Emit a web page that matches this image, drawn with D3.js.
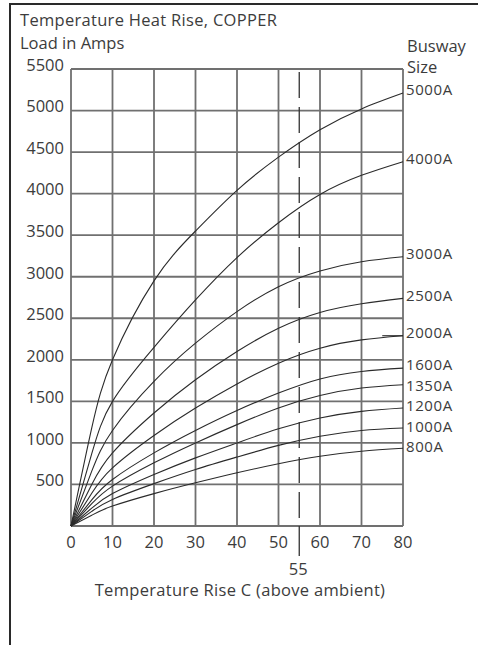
<!DOCTYPE html>
<html>
<head>
<meta charset="utf-8">
<script src="https://cdn.jsdelivr.net/npm/d3@7"></script>
<style>
html,body{margin:0;padding:0;background:#fff;}
svg{display:block;}
text{font-family:"Open Sans",sans-serif;fill:#3c3c3c;}
</style>
</head>
<body>
<script>
// ---- data ----
const temps = [0, 5, 10, 20, 30, 40, 50, 60, 70, 80];
const load5000A = [0, 1180, 2000, 2950, 3550, 4040, 4440, 4770, 5020, 5210];
const load4000A = [0, 870, 1500, 2150, 2720, 3230, 3650, 3990, 4220, 4385];
const load3000A = [0, 660, 1150, 1740, 2200, 2580, 2880, 3070, 3180, 3240];
const load2500A = [0, 500, 880, 1360, 1760, 2100, 2380, 2570, 2675, 2740];
const load2000A = [0, 395, 700, 1090, 1420, 1710, 1960, 2140, 2240, 2290];
const load1600A = [0, 315, 560, 880, 1150, 1390, 1600, 1770, 1860, 1900];
const load1350A = [0, 268, 480, 760, 1000, 1220, 1420, 1570, 1660, 1700];
const load1200A = [0, 216, 390, 620, 820, 1000, 1170, 1300, 1380, 1420];
const load1000A = [0, 176, 320, 510, 680, 830, 970, 1080, 1150, 1180];
const load800A  = [0, 130, 240, 390, 520, 640, 750, 840, 900, 935];
const buswaySizes = ["5000A","4000A","3000A","2500A","2000A","1600A","1350A","1200A","1000A","800A"];
const seriesLoads = [load5000A, load4000A, load3000A, load2500A, load2000A, load1600A, load1350A, load1200A, load1000A, load800A];
const xTickValues = [0, 10, 20, 30, 40, 50, 60, 70, 80];
const yTickValues = [0, 500, 1000, 1500, 2000, 2500, 3000, 3500, 4000, 4500, 5000, 5500];
const ratedRise = 55;
const titleText = "Temperature Heat Rise, COPPER";
const yTitleText = "Load in Amps";
const xTitleText = "Temperature Rise C (above ambient)";
const legendTitle = ["Busway", "Size"];

// ---- layout ----
const W = 478, H = 645;
const svg = d3.select("body").append("svg").attr("width", W).attr("height", H);

const x = d3.scaleLinear().domain([0, 80]).range([71, 403]);
const y = d3.scaleLinear().domain([0, 5500]).range([526, 69]);

// frame (top + left)
svg.append("path").attr("d", `M10,${H} L10,4 L${W},4`)
  .attr("fill", "none").attr("stroke", "#2a2a2a").attr("stroke-width", 2);

// grid
const grid = svg.append("g").attr("stroke", "#707070").attr("stroke-width", 1.8);
grid.selectAll("line.h").data(yTickValues).join("line")
  .attr("x1", x(0)).attr("x2", x(80)).attr("y1", d => y(d)).attr("y2", d => y(d));
grid.selectAll("line.v").data(xTickValues).join("line")
  .attr("y1", y(0)).attr("y2", y(5500)).attr("x1", d => x(d)).attr("x2", d => x(d));

// dashed 55 line
svg.append("line").attr("x1", x(ratedRise)).attr("x2", x(ratedRise))
  .attr("y1", y(5500) + 3).attr("y2", y(0))
  .attr("stroke", "#333").attr("stroke-width", 1.3).attr("stroke-dasharray", "26,9");
svg.append("line").attr("x1", x(ratedRise)).attr("x2", x(ratedRise))
  .attr("y1", y(0)).attr("y2", y(0) + 30)
  .attr("stroke", "#333").attr("stroke-width", 1.3);

// curves
const line = d3.line().x((d, i) => x(temps[i])).y(d => y(d)).curve(d3.curveNatural);
svg.append("g").selectAll("path").data(seriesLoads).join("path")
  .attr("d", d => line(d)).attr("fill", "none").attr("stroke", "#2b2b2b").attr("stroke-width", 1.1);

// 2000A leader
svg.append("line").attr("x1", x(75)).attr("x2", x(80)).attr("y1", y(load2000A[9])).attr("y2", y(load2000A[9]))
  .attr("stroke", "#2b2b2b").attr("stroke-width", 1.1);

// y tick labels
const fs = 16.5;
svg.append("g").selectAll("text").data(yTickValues.filter(d => d > 0)).join("text")
  .attr("x", 64).attr("y", d => y(d) - 4).attr("dy", "0.35em")
  .attr("text-anchor", "end").attr("font-size", fs).text(d => d);

// x tick labels
svg.append("g").selectAll("text").data(xTickValues).join("text")
  .attr("x", d => x(d)).attr("y", 542).attr("dy", "0.35em")
  .attr("text-anchor", "middle").attr("font-size", fs).text(d => d);
svg.append("text").attr("x", x(ratedRise) - 1).attr("y", 569).attr("dy", "0.35em")
  .attr("text-anchor", "middle").attr("font-size", fs).text(ratedRise);

// titles
svg.append("text").attr("x", 20).attr("y", 20).attr("dy", "0.35em").attr("font-size", fs).attr("letter-spacing", 0.3).text(titleText);
svg.append("text").attr("x", 20).attr("y", 43).attr("dy", "0.35em").attr("font-size", fs).text(yTitleText);
svg.append("text").attr("x", 240).attr("y", 590).attr("dy", "0.35em").attr("text-anchor", "middle").attr("font-size", fs).attr("letter-spacing", 0.3).text(xTitleText);

// legend titles
svg.append("g").selectAll("text").data(legendTitle).join("text")
  .attr("x", 407).attr("y", (d, i) => 46 + i * 21).attr("dy", "0.35em").attr("font-size", fs).text(d => d);

// right labels at curve ends, nudged apart so they do not collide
const labelY = [];
seriesLoads.forEach((s, i) => {
  let ly = y(s[s.length - 1]) - 3;
  if (i > 0) ly = Math.max(ly, labelY[i - 1] + 20.5);
  labelY.push(ly);
});
svg.append("g").selectAll("text").data(buswaySizes).join("text")
  .attr("x", 406).attr("y", (d, i) => labelY[i]).attr("dy", "0.35em")
  .attr("font-size", 15).attr("letter-spacing", 0.6).text(d => d);
</script>
</body>
</html>
